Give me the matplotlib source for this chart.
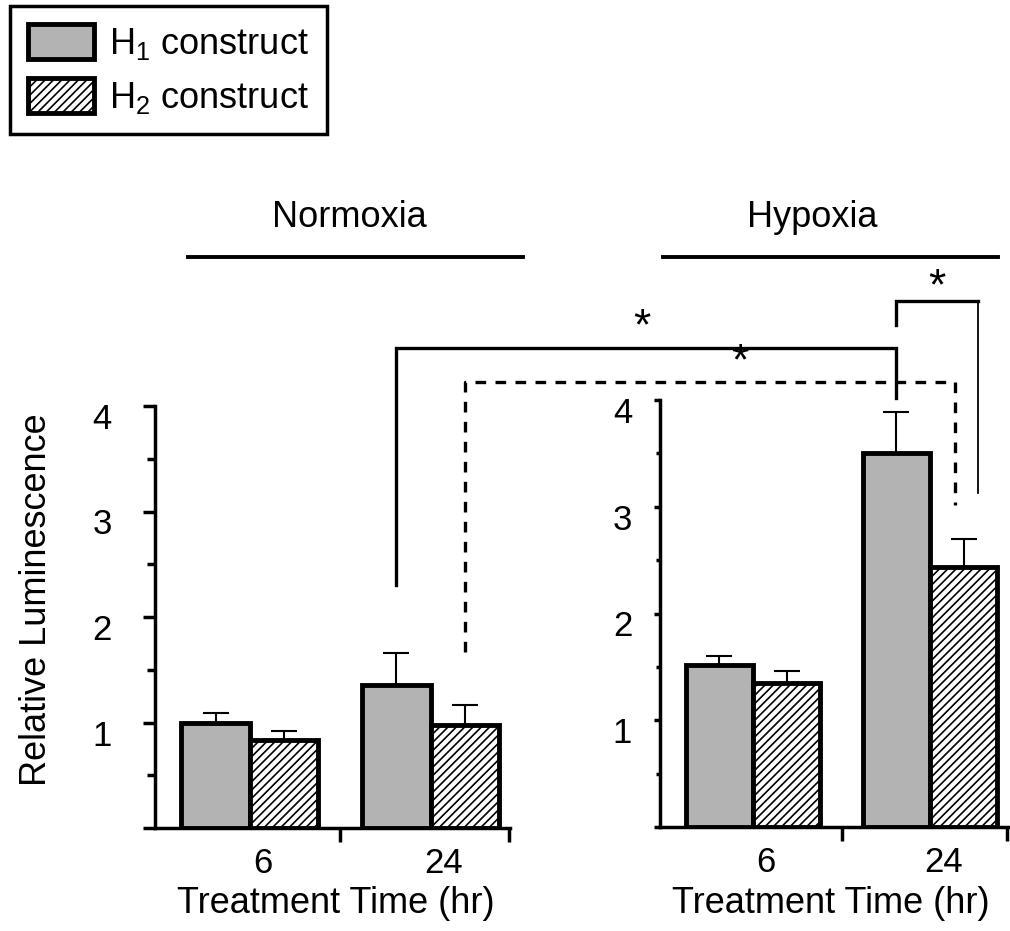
import numpy as np
import matplotlib
matplotlib.use("Agg")
import matplotlib.pyplot as plt
from matplotlib.patches import Patch
from matplotlib.lines import Line2D
from matplotlib.transforms import ScaledTranslation

plt.rcParams['font.family'] = ['Liberation Sans', 'DejaVu Sans']
plt.rcParams['mathtext.fontset'] = 'custom'
plt.rcParams['mathtext.rm'] = 'Liberation Sans'
plt.rcParams['mathtext.it'] = 'Liberation Sans:italic'
plt.rcParams['mathtext.bf'] = 'Liberation Sans:bold'
plt.rcParams['hatch.linewidth'] = 1.2

# ---------------- data ----------------
time_labels = ['6', '24']
series_labels = [r'H$_1$ construct', r'H$_2$ construct']
normoxia_h1 = [1.00, 1.36]
normoxia_h2 = [0.83, 0.98]
normoxia_h1_err = [0.09, 0.30]
normoxia_h2_err = [0.09, 0.19]
hypoxia_h1 = [1.52, 3.50]
hypoxia_h2 = [1.35, 2.44]
hypoxia_h1_err = [0.08, 0.39]
hypoxia_h2_err = [0.11, 0.26]
y_ticks = [0, 1, 2, 3, 4]
y_ticklabels = ['', '1', '2', '3', '4']
panel_titles = ['Normoxia', 'Hypoxia']
xlabel = 'Treatment Time (hr)'
ylabel = 'Relative Luminescence'

GRAY = '#b3b3b3'
HATCH = '////'
W, H = 1010, 931
fig = plt.figure(figsize=(W / 100, H / 100), dpi=100)


def fx(px):
    return px / W


def fy(py):
    return 1 - py / H


axL = fig.add_axes([fx(155), fy(828), (510 - 155) / W, (828 - 406) / H])
axR = fig.add_axes([fx(660), fy(827), (1008 - 660) / W, (827 - 400) / H])

x = np.arange(len(time_labels))
bw = 0.38
XMIN, XMAX = -0.525, 1.44


def setup(ax, h1, h2, e1, e2, major_len, minor_len, pad):
    ax.set_xlim(XMIN, XMAX)
    ax.set_ylim(0, 4)
    for s in ['top', 'right']:
        ax.spines[s].set_visible(False)
    for s in ['left', 'bottom']:
        ax.spines[s].set_linewidth(2.5)
    ax.errorbar(x - bw / 2, h1, yerr=[np.zeros(len(h1)), e1], fmt='none',
                ecolor='black', elinewidth=1.5, capsize=9.4, capthick=1.5, zorder=2)
    ax.errorbar(x + bw / 2, h2, yerr=[np.zeros(len(h2)), e2], fmt='none',
                ecolor='black', elinewidth=1.5, capsize=9.4, capthick=1.5, zorder=2)
    ax.bar(x - bw / 2, h1, bw, color=GRAY, edgecolor='black', linewidth=3.5, zorder=3)
    ax.bar(x + bw / 2, h2, bw, color='white', edgecolor='black', hatch=HATCH,
           linewidth=3.5, zorder=3)
    ax.set_yticks(y_ticks)
    ax.set_yticklabels(y_ticklabels, fontsize=25)
    ax.set_yticks([0.5, 1.5, 2.5, 3.5], minor=True)
    ax.tick_params(axis='y', which='major', length=major_len, width=2.5, pad=pad)
    ax.tick_params(axis='y', which='minor', length=minor_len, width=2.5)
    ax.set_xticks([0.5, XMAX - 0.003])
    ax.set_xticklabels([])
    ax.set_xticks(x, minor=True)
    ax.set_xticklabels(time_labels, minor=True, fontsize=25)
    ax.tick_params(axis='x', which='major', length=10, width=2.5, direction='out')
    ax.tick_params(axis='x', which='minor', length=0, pad=14)
    off_x = ScaledTranslation(0.13, 0, fig.dpi_scale_trans)
    for lab in ax.xaxis.get_minorticklabels():
        lab.set_transform(lab.get_transform() + off_x)
    off_y = ScaledTranslation(0, -0.10, fig.dpi_scale_trans)
    for lab in ax.yaxis.get_majorticklabels():
        lab.set_transform(lab.get_transform() + off_y)


setup(axL, normoxia_h1, normoxia_h2, normoxia_h1_err, normoxia_h2_err, 9, 6, 22)
setup(axR, hypoxia_h1, hypoxia_h2, hypoxia_h1_err, hypoxia_h2_err, 4, 3, 16)

inv = fig.transFigure.inverted()


def to_fig(ax, xv, yv):
    return inv.transform(ax.transData.transform((xv, yv)))


def mixed(axx, xv, axy, yv):
    px = axx.transData.transform((xv, 0))[0]
    py = axy.transData.transform((0, yv))[1]
    return inv.transform((px, py))


def polyline(pts, **kw):
    xs = [p[0] for p in pts]
    ys = [p[1] for p in pts]
    fig.add_artist(Line2D(xs, ys, transform=fig.transFigure, color='black',
                          solid_joinstyle='miter', **kw))


# Significance bracket 1 (solid): Normoxia 24h H1 vs Hypoxia 24h H1
b1 = [to_fig(axL, 1 - bw / 2, 2.30), to_fig(axL, 1 - bw / 2, 4.55),
      mixed(axR, 1 - bw / 2, axL, 4.55), to_fig(axR, 1 - bw / 2, 4.02)]
polyline(b1, linewidth=2.4)
# Significance bracket 2 (dashed): Normoxia 24h H2 vs Hypoxia 24h H2
b2 = [to_fig(axL, 1 + bw / 2, 1.67), to_fig(axL, 1 + bw / 2, 4.23),
      mixed(axR, 1.14, axL, 4.23), to_fig(axR, 1.14, 3.02)]
polyline(b2, linewidth=2.4, linestyle=(0, (3.2, 2.8)))
# Significance bracket 3: Hypoxia 24h H1 vs H2
b3 = [to_fig(axR, 1 - bw / 2, 4.70), to_fig(axR, 1 - bw / 2, 4.93),
      to_fig(axR, 1.27, 4.93)]
polyline(b3, linewidth=2.4)
polyline([to_fig(axR, 1.27, 4.93), to_fig(axR, 1.27, 3.13)], linewidth=1.3)

star_kw = dict(ha='center', va='center', fontsize=32, transform=fig.transFigure)
fig.text((b1[1][0] + b1[2][0]) / 2 - fx(4), b1[1][1] + 20 / H, '*', **star_kw)
fig.text((b2[1][0] + b2[2][0]) / 2 + fx(30), b2[1][1] + 19 / H, '*', **star_kw)
fig.text((b3[1][0] + b3[2][0]) / 2, b3[1][1] + 13 / H, '*', **star_kw)

# Panel titles with lines
fig.text(fx(349), fy(227), panel_titles[0], ha='center', va='baseline', fontsize=26)
fig.text(fx(812), fy(227), panel_titles[1], ha='center', va='baseline', fontsize=26)
fig.add_artist(Line2D([fx(188), fx(523)], [fy(257), fy(257)], color='black',
                      linewidth=2.8, transform=fig.transFigure))
fig.add_artist(Line2D([fx(663), fx(998)], [fy(257), fy(257)], color='black',
                      linewidth=2.8, transform=fig.transFigure))

# Axis labels
fig.text(fx(336), fy(913), xlabel, ha='center', va='baseline', fontsize=26)
fig.text(fx(831), fy(913), xlabel, ha='center', va='baseline', fontsize=26)
fig.text(fx(37), fy(600), ylabel, rotation=90, ha='center', va='center', fontsize=26)

# Legend
handles = [Patch(facecolor=GRAY, edgecolor='black', linewidth=3.5),
           Patch(facecolor='white', edgecolor='black', hatch=HATCH, linewidth=3.5)]
leg = fig.legend(handles, series_labels, loc='upper left',
                 bbox_to_anchor=(fx(10), fy(6)), bbox_transform=fig.transFigure,
                 fontsize=26, frameon=True, fancybox=False, borderaxespad=0,
                 handlelength=1.83, handleheight=1.1, handletextpad=0.42,
                 borderpad=0.5, labelspacing=0.45)
leg.get_frame().set_edgecolor('black')
leg.get_frame().set_linewidth(2.5)
leg.get_frame().set_alpha(None)

fig.savefig('out.png', dpi=100)
